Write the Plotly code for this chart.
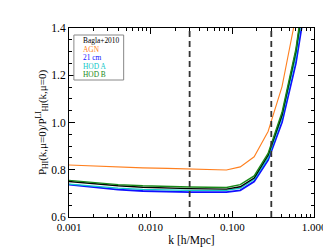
import plotly.graph_objects as go

k = [0.001, 0.002, 0.004, 0.008, 0.016, 0.03, 0.0846, 0.125, 0.185, 0.274, 0.406, 0.60, 0.889]
agn   = [0.820, 0.815, 0.811, 0.808, 0.806, 0.803, 0.799, 0.812, 0.855, 0.962, 1.152, 1.45, 1.90]
bagla = [0.750, 0.740, 0.732, 0.726, 0.722, 0.720, 0.718, 0.728, 0.765, 0.862, 1.032, 1.30, 1.70]
cm21  = [0.737, 0.725, 0.716, 0.710, 0.707, 0.705, 0.705, 0.713, 0.750, 0.841, 1.001, 1.25, 1.62]
hoda  = [0.739, 0.729, 0.722, 0.717, 0.714, 0.713, 0.713, 0.722, 0.760, 0.851, 1.022, 1.28, 1.68]
hodb  = [0.755, 0.745, 0.737, 0.732, 0.729, 0.727, 0.725, 0.737, 0.774, 0.869, 1.043, 1.31, 1.72]
kcuts = [0.03, 0.3]

xtickvals = [0.001, 0.01, 0.1, 1.0]
xticktext = ["0.001", "0.010", "0.100", "1.000"]
xminor = [m * d for d in [0.001, 0.01, 0.1] for m in range(2, 10)]

names = ["Bagla+2010", "AGN", "21 cm", "HOD A", "HOD B"]
colors = ["#000000", "#ff8020", "#1010ff", "#10c8c8", "#1a8a1a"]
series = [bagla, agn, cm21, hoda, hodb]
widths = [1.4, 1.1, 1.8, 1.3, 1.4]

FONT = "Liberation Serif"
fig = go.Figure()
order = [2, 3, 0, 4, 1]
for i in order:
    fig.add_trace(go.Scatter(x=k, y=series[i], mode="lines", name=names[i],
                             line=dict(color=colors[i], width=widths[i]),
                             showlegend=False, cliponaxis=True))

for kc in kcuts:
    fig.add_shape(type="line", x0=kc, x1=kc, y0=0, y1=1, xref="x", yref="paper",
                  line=dict(color="#333333", width=1.8, dash="6px,4px"), layer="above")

# legend box
fig.add_shape(type="rect", xref="paper", yref="paper",
              x0=(66-61)/251, x1=(117-61)/251, y0=(209-72)/189, y1=(209-27)/189,
              line=dict(color="#888888", width=1), fillcolor="white", layer="above")
ys = [32.5, 41, 49.5, 58, 66.5]
for n, c, yy in zip(names, colors, ys):
    fig.add_annotation(text=n, xref="paper", yref="paper",
                       x=(73-61)/251, y=(209-yy)/189, xanchor="left", yanchor="middle",
                       showarrow=False, font=dict(family=FONT, size=7.4, color=c))

fig.update_layout(
    width=331, height=248,
    margin=dict(l=61, r=19, t=20, b=39),
    paper_bgcolor="white", plot_bgcolor="white",
    font=dict(family=FONT, size=11, color="black"),
)
fig.update_xaxes(type="log", range=[-3, 0], tickvals=xtickvals, ticktext=xticktext,
                 ticks="inside", ticklen=6, tickwidth=1, tickcolor="black",
                 showline=True, linecolor="black", linewidth=1, mirror="allticks",
                 showgrid=False, zeroline=False,
                 minor=dict(tickvals=xminor, ticks="inside", ticklen=3, tickcolor="black", showgrid=False),
                 title=dict(text="k [h/Mpc]", font=dict(size=11.5), standoff=3),
                 tickfont=dict(size=11))
fig.update_yaxes(range=[0.6, 1.4], dtick=0.2, tick0=0.6, tickformat=".1f",
                 ticks="inside", ticklen=6, tickwidth=1, tickcolor="black",
                 showline=True, linecolor="black", linewidth=1, mirror="allticks",
                 showgrid=False, zeroline=False,
                 minor=dict(dtick=0.05, ticks="inside", ticklen=3, tickcolor="black", showgrid=False),
                 title=dict(text="P<sub>HI</sub>(k,μ=0)/P<sup>LI</sup><sub>HI</sub>(k,μ=0)",
                            font=dict(size=11), standoff=2),
                 tickfont=dict(size=11.5))

fig.write_html("out.html")
